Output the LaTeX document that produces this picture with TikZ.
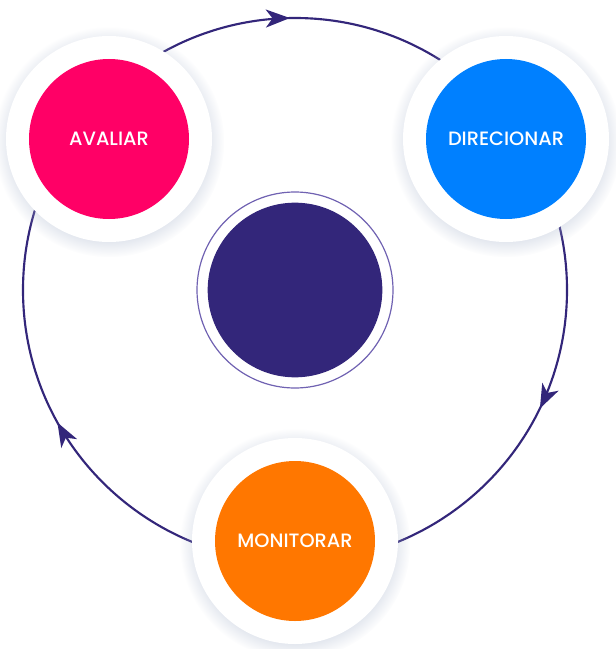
\documentclass[tikz,border=0pt]{standalone}
\usepackage{fontspec}
\setmainfont{Poppins}[BoldFont={Poppins Medium}]
\usetikzlibrary{arrows.meta,decorations.markings,shadows}

\definecolor{avaliarpink}{RGB}{255,0,102}
\definecolor{direcblue}{RGB}{0,128,255}
\definecolor{monitorange}{RGB}{255,119,0}
\definecolor{cyclepurple}{RGB}{51,38,122}
\definecolor{ringpurple}{RGB}{112,98,178}
\definecolor{shadowgray}{RGB}{170,182,205}

\begin{document}
\begin{tikzpicture}[x=0.75pt,y=0.75pt,yscale=-1,xscale=1,
  halo/.style={circle, fill=white, minimum size=154.5pt, inner sep=0pt,
    circular drop shadow={shadow xshift=0pt, shadow yshift=-2pt, shadow scale=1.12, opacity=0.35, fill=shadowgray}},
  stage/.style={circle, minimum size=120pt, inner sep=0pt, text=white,
    font=\bfseries\fontsize{14.5}{17}\selectfont},
  cycle line/.style={draw=cyclepurple, line width=1.6pt}
]
\useasboundingbox (0,0) rectangle (615,649);

%Big cycle circle with arrows
\draw [cycle line, postaction={decorate},
  decoration={markings,
    mark=at position 0.0717 with {\arrow{Stealth[length=18pt, width=13.5pt, inset=5pt]}},
    mark=at position 0.419 with {\arrow{Stealth[length=18pt, width=13.5pt, inset=5pt]}},
    mark=at position 0.747 with {\arrow{Stealth[length=18pt, width=13.5pt, inset=5pt]}}}]
  (295,290) ++(272,0) arc [start angle=0, end angle=360, radius=272];

%Center circle
\node (core-ring) [circle, draw=ringpurple, line width=0.9pt, fill=white, minimum size=147pt, inner sep=0pt] at (295,290) {};
\node (core) [circle, fill=cyclepurple, minimum size=131pt, inner sep=0pt] at (295,290) {};

%Avaliar
\node (avaliar-halo) [halo] at (109,139) {};
\node (avaliar) [stage, fill=avaliarpink] at (109,139) {AVALIAR};

%Direcionar
\node (direcionar-halo) [halo] at (506,139) {};
\node (direcionar) [stage, fill=direcblue] at (506,139) {DIRECIONAR};

%Monitorar
\node (monitorar-halo) [halo] at (295,541) {};
\node (monitorar) [stage, fill=monitorange] at (295,541) {MONITORAR};

\end{tikzpicture}
\end{document}
